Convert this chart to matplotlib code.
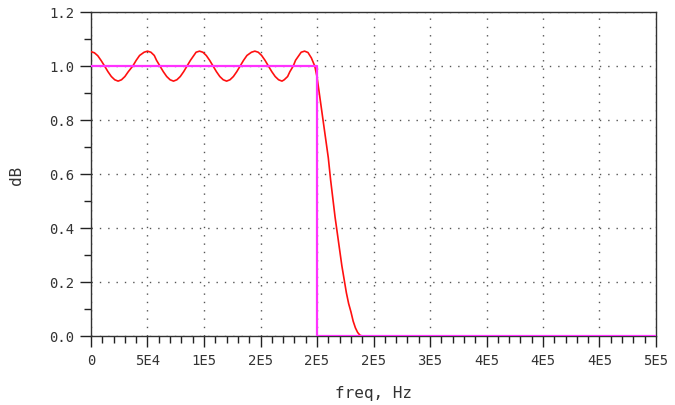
import matplotlib
matplotlib.use("Agg")
from matplotlib import pyplot as plt
import numpy as np

# Respuesta simulada (rojo): frecuencia en kHz, magnitud
freq_khz = [0, 3, 6, 9, 12, 15, 18, 21, 24, 27, 30, 33, 37, 40, 43, 47, 50,
            53, 56, 58, 61, 64, 67, 70, 73, 76, 79, 82, 85, 88, 91, 93, 96,
            99, 102, 105, 108, 111, 114, 117, 120, 123, 126, 129, 132, 135, 138, 142, 145,
            148, 151, 154, 157, 160, 163, 166, 169, 171, 174, 176, 179, 181, 184, 186, 189,
            192, 195, 198, 200, 202, 204, 206, 208, 210, 212, 214, 216, 218, 220,
            222, 224, 226, 228, 230, 232, 234, 236, 238, 240]
mag = [1.053, 1.049, 1.038, 1.020, 1.0, 0.979, 0.961, 0.949, 0.944, 0.949, 0.961, 0.979, 1.0, 1.021, 1.039, 1.051, 1.055,
       1.051, 1.039, 1.021, 1.0, 0.979, 0.961, 0.949, 0.944, 0.949, 0.961, 0.979, 1.0, 1.021, 1.039, 1.051, 1.055,
       1.051, 1.039, 1.021, 1.0, 0.979, 0.961, 0.949, 0.944, 0.949, 0.961, 0.979, 1.0, 1.021, 1.039, 1.051, 1.055,
       1.051, 1.039, 1.021, 1.0, 0.979, 0.961, 0.949, 0.944, 0.949, 0.961, 0.979, 1.0, 1.021, 1.039, 1.051, 1.055,
       1.050, 1.030, 1.000, 0.960, 0.900, 0.840, 0.780, 0.720, 0.660, 0.580, 0.510, 0.440, 0.380, 0.320,
       0.260, 0.210, 0.160, 0.120, 0.090, 0.055, 0.030, 0.013, 0.003, 0.0]

# Filtro ideal (magenta)
ideal_khz = [0, 200, 200, 500]
ideal_mag = [1.0, 1.0, 0.0, 0.0]

XTICKS_KHZ = [0, 50, 100, 150, 200, 250, 300, 350, 400, 450, 500]
XTICK_LABELS = ['0', '5E4', '1E5', '2E5', '2E5', '2E5', '3E5', '4E5', '4E5', '4E5', '5E5']
YTICKS = [0.0, 0.2, 0.4, 0.6, 0.8, 1.0, 1.2]

plt.rcParams['font.family'] = ['DejaVu Sans Mono']

fig = plt.figure(figsize=(6.75, 4.06), dpi=100)
ax = fig.add_axes([91 / 675, 1 - 337 / 406, (656 - 91) / 675, (337 - 13) / 406])

ax.plot(np.array(freq_khz) * 1e3, mag, color='#ff1010', lw=1.2, zorder=3)
ax.plot(np.array(ideal_khz) * 1e3, ideal_mag, color='#ff33ff', lw=1.6, zorder=4)

ax.set_xlim(0, 5e5)
ax.set_ylim(0, 1.2)

ax.set_xticks(np.array(XTICKS_KHZ) * 1e3)
ax.set_xticklabels(XTICK_LABELS)
ax.set_xticks(np.arange(0, 500001, 10000), minor=True)
ax.set_yticks(YTICKS)
ax.set_yticklabels([f'{v:.1f}' for v in YTICKS])
ax.set_yticks(np.arange(0, 1.21, 0.1), minor=True)

ax.tick_params(which='major', direction='out', length=8, width=1, color='#222222',
               labelsize=10, labelcolor='#333333', pad=4)
ax.tick_params(which='minor', direction='out', length=5, width=1, color='#222222')
ax.tick_params(axis='x', which='major', pad=4)

for s in ax.spines.values():
    s.set_color('#333333')
    s.set_linewidth(1.0)

ax.grid(True, which='major', linestyle=(0, (1, 5)), linewidth=1.0, color='#555555')

ax.set_xlabel('freq, Hz', fontsize=11.5, color='#333333', labelpad=13)
ax.set_ylabel('dB', fontsize=11.5, color='#333333', labelpad=18)

fig.savefig('out.png', dpi=100)
